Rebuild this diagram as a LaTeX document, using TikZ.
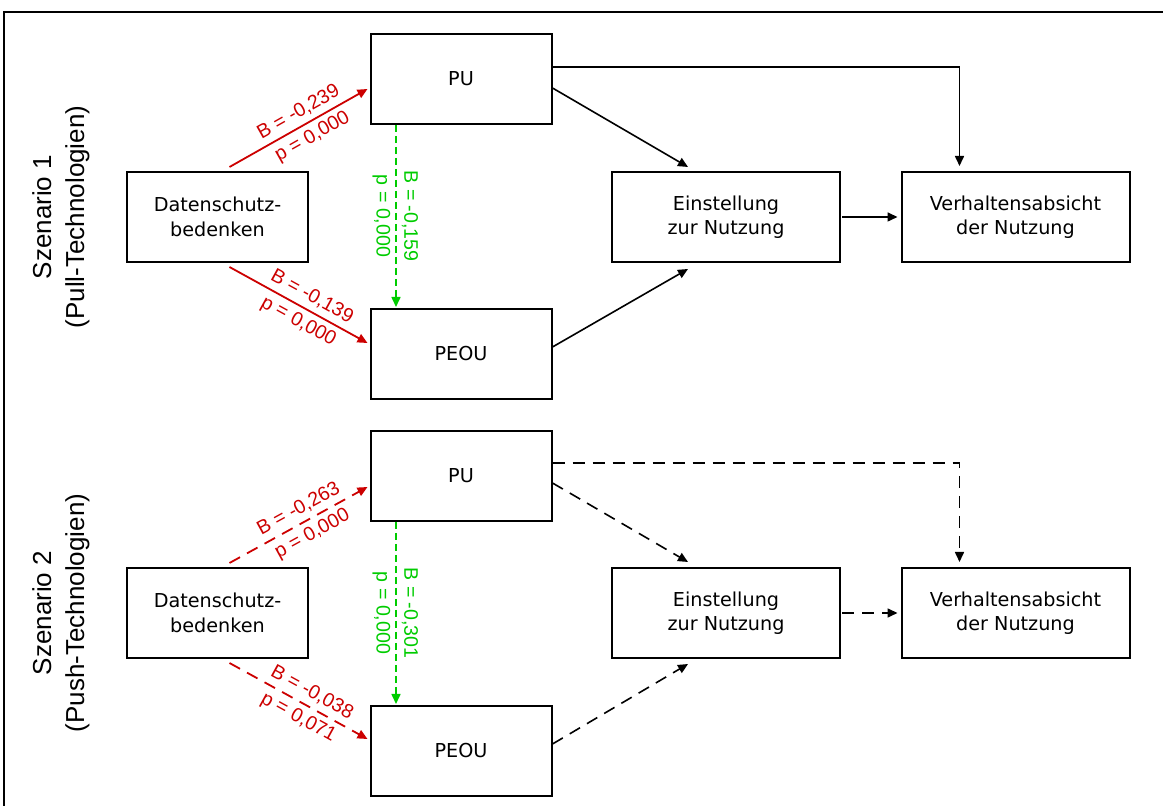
\documentclass[tikz,border=0pt]{standalone}
\usepackage{fontspec}
\setmainfont{DejaVu Sans}
\newfontfamily\labelfont{Liberation Sans}
\usetikzlibrary{arrows.meta}
\definecolor{pathred}{RGB}{204,0,0}
\definecolor{pathgreen}{RGB}{0,204,0}

\begin{document}
\begin{tikzpicture}[x=0.5pt,y=-0.5pt,
    factor/.style={draw,line width=1pt,minimum width=90.5pt,minimum height=45pt,align=center,font=\fontsize{9.6pt}{12.2pt}\selectfont},
    widefactor/.style={factor,minimum width=114pt},
    link/.style={line width=0.8pt,-{Triangle[length=5pt,width=4.5pt]}},
    weak/.style={dash pattern=on 6pt off 4pt},
    redlink/.style={link,pathred,line width=0.9pt},
    greenlink/.style={link,pathgreen,dash pattern=on 3.5pt off 2pt},
    coef/.style={font=\labelfont\fontsize{9.8pt}{11pt}\selectfont,inner sep=2.5pt},
    scenario/.style={rotate=90,align=center,font=\labelfont\fontsize{13pt}{16.5pt}\selectfont}]
        \path [use as bounding box,clip] (0,0) rectangle (1163,806);
        \draw [line width=0.8pt] (4,12) rectangle (1190,830);

        % Szenario 1
        \node (sc1) at (61,217) [scenario] {Szenario 1\\(Pull-Technologien)};
        \node (ds1) at (217.5,217) [factor] {Datenschutz-\\bedenken};
        \node (pu1) at (461,79) [factor] {PU};
        \node (peou1) at (461,354) [factor] {PEOU};
        \node (ein1) at (726,217) [widefactor] {Einstellung\\zur Nutzung};
        \node (ver1) at (1015.5,217) [widefactor] {Verhaltensabsicht\\der Nutzung};
        \draw [redlink] ([xshift=6pt,yshift=2pt]ds1.north) -- node [coef,sloped,above,pos=0.55] {B = -0,239} node [coef,sloped,below,pos=0.55] {p = 0,000} ([xshift=-1pt,yshift=-5pt]pu1.west);
        \draw [redlink] ([xshift=6pt,yshift=-2pt]ds1.south) -- node [coef,sloped,above,pos=0.55] {B = -0,139} node [coef,sloped,below,pos=0.55] {p = 0,000} ([xshift=-1pt,yshift=5.5pt]peou1.west);
        \draw [greenlink] ([xshift=-32.5pt]pu1.south) -- node [coef,rotate=-90,above] {B = -0,159} node [coef,rotate=-90,below] {p = 0,000} ([xshift=-32.5pt,yshift=0.5pt]peou1.north);
        \draw [link] ([yshift=-4.5pt]pu1.east) -- ([xshift=-19pt,yshift=2pt]ein1.north);
        \draw [link] ([yshift=6pt]pu1.east) -| ([xshift=-28pt,yshift=2.5pt]ver1.north);
        \draw [link] ([yshift=3.5pt]peou1.east) -- ([xshift=-19pt,yshift=-3pt]ein1.south);
        \draw [link] ([xshift=0.5pt]ein1.east) -- ([xshift=-1.5pt]ver1.west);

        % Szenario 2
        \node (sc2) at (61,613) [scenario] {Szenario 2\\(Push-Technologien)};
        \node (ds2) at (217.5,613) [factor] {Datenschutz-\\bedenken};
        \node (pu2) at (461,476) [factor] {PU};
        \node (peou2) at (461,751) [factor] {PEOU};
        \node (ein2) at (726,613) [widefactor] {Einstellung\\zur Nutzung};
        \node (ver2) at (1015.5,613) [widefactor] {Verhaltensabsicht\\der Nutzung};
        \draw [redlink,weak] ([xshift=6pt,yshift=2pt]ds2.north) -- node [coef,sloped,above,pos=0.55] {B = -0,263} node [coef,sloped,below,pos=0.55] {p = 0,000} ([xshift=-1pt,yshift=-5.5pt]pu2.west);
        \draw [redlink,weak] ([xshift=6pt,yshift=-2pt]ds2.south) -- node [coef,sloped,above,pos=0.55] {B = -0,038} node [coef,sloped,below,pos=0.55] {p = 0,071} ([xshift=-1pt,yshift=6pt]peou2.west);
        \draw [greenlink] ([xshift=-32.5pt]pu2.south) -- node [coef,rotate=-90,above] {B = -0,301} node [coef,rotate=-90,below] {p = 0,000} ([xshift=-32.5pt,yshift=0.5pt]peou2.north);
        \draw [link,weak] ([yshift=-3.5pt]pu2.east) -- ([xshift=-19pt,yshift=2.5pt]ein2.north);
        \draw [link,weak] ([yshift=6.5pt]pu2.east) -| ([xshift=-28pt,yshift=2.5pt]ver2.north);
        \draw [link,weak] ([yshift=3.5pt]peou2.east) -- ([xshift=-19pt,yshift=-2.5pt]ein2.south);
        \draw [link,weak] ([xshift=0.5pt]ein2.east) -- ([xshift=-1.5pt]ver2.west);
      \end{tikzpicture}
\end{document}
